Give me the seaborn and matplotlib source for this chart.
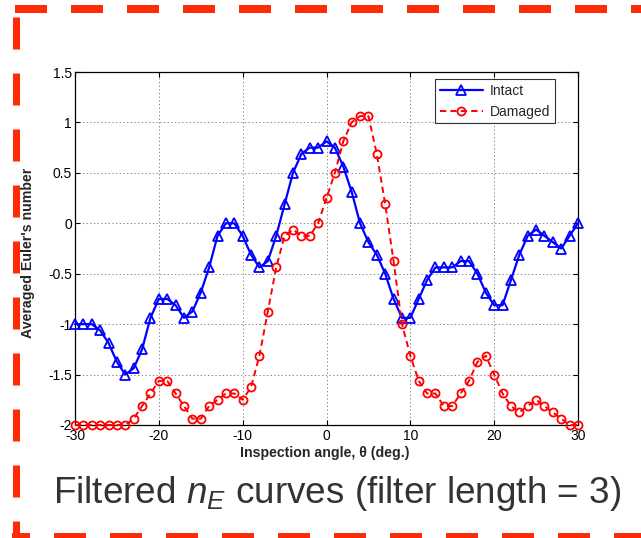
import numpy as np
import pandas as pd
import matplotlib
matplotlib.use("Agg")
import matplotlib.pyplot as plt
from matplotlib.lines import Line2D
from matplotlib.ticker import FuncFormatter, FixedLocator
import seaborn as sns

# Inspection angles (deg.) and averaged Euler's numbers of the filtered curves
angles = list(range(-30, 31))
intact = [-1.0, -1.0, -1.0, -1.0625, -1.1875, -1.375, -1.5, -1.4375, -1.25, -0.9375,
          -0.75, -0.75, -0.8125, -0.9375, -0.875, -0.6875, -0.4375, -0.125, 0.0, 0.0,
          -0.125, -0.3125, -0.4375, -0.375, -0.125, 0.1875, 0.5, 0.6875, 0.75, 0.75,
          0.8125, 0.75, 0.5625, 0.3125, 0.0, -0.1875, -0.3125, -0.5, -0.75, -0.9375,
          -0.9375, -0.75, -0.5625, -0.4375, -0.4375, -0.4375, -0.375, -0.375, -0.5, -0.6875,
          -0.8125, -0.8125, -0.5625, -0.3125, -0.125, -0.0625, -0.125, -0.1875, -0.25, -0.125,
          0.0]
damaged = [-2.0, -2.0, -2.0, -2.0, -2.0, -2.0, -2.0, -1.9375, -1.8125, -1.6875,
           -1.5625, -1.5625, -1.6875, -1.8125, -1.9375, -1.9375, -1.8125, -1.75, -1.6875, -1.6875,
           -1.75, -1.625, -1.3125, -0.875, -0.4375, -0.125, -0.0625, -0.125, -0.125, 0.0,
           0.25, 0.5, 0.8125, 1.0, 1.0625, 1.0625, 0.6875, 0.1875, -0.375, -1.0,
           -1.3125, -1.5625, -1.6875, -1.6875, -1.8125, -1.8125, -1.6875, -1.5625, -1.375, -1.3125,
           -1.5, -1.6875, -1.8125, -1.875, -1.8125, -1.75, -1.8125, -1.875, -1.9375, -2.0,
           -2.0]
x_ticks = [-30, -20, -10, 0, 10, 20, 30]
y_ticks = [-2, -1.5, -1, -0.5, 0, 0.5, 1, 1.5]

df = pd.DataFrame({"angle": angles, "Intact": intact, "Damaged": damaged})

sns.set_style("ticks")
plt.rcParams.update({
    "font.family": ["Liberation Sans", "DejaVu Sans"],
    "axes.unicode_minus": False,
    "lines.scale_dashes": False,
    "mathtext.fontset": "custom",
    "mathtext.rm": "Liberation Sans",
    "mathtext.it": "Liberation Sans:italic",
})

W, H = 641, 538
fig = plt.figure(figsize=(W / 100, H / 100), dpi=100)
ax = fig.add_axes([75 / W, 113 / H, 503 / W, 353 / H])

sns.lineplot(data=df, x="angle", y="Intact", ax=ax, color="#0000ff", lw=1.6,
             marker="^", markersize=7.2, markerfacecolor="none",
             markeredgecolor="#0000ff", markeredgewidth=1.3, label="Intact",
             clip_on=False, zorder=3)
sns.lineplot(data=df, x="angle", y="Damaged", ax=ax, color="#ff0000", lw=1.4,
             linestyle=(0, (4.5, 3.0)), marker="o", markersize=5.8,
             markerfacecolor="none", markeredgecolor="#ff0000", markeredgewidth=1.3,
             label="Damaged", clip_on=False, zorder=3)

ax.set_xlim(-30, 30)
ax.set_ylim(-2, 1.5)
ax.xaxis.set_major_locator(FixedLocator(x_ticks))
ax.yaxis.set_major_locator(FixedLocator(y_ticks))
ax.xaxis.set_major_formatter(FuncFormatter(lambda v, p: f"{v:g}"))
ax.yaxis.set_major_formatter(FuncFormatter(lambda v, p: f"{v:g}"))
ax.tick_params(axis="both", direction="in", length=3.5, width=0.8, top=True,
               right=True, labelsize=10, colors="black")
ax.tick_params(axis="x", pad=3.0)
ax.tick_params(axis="y", pad=2.2)
ax.grid(True, linestyle=":", color="#8a8a8a", linewidth=0.7)
for s in ax.spines.values():
    s.set_visible(True)
    s.set_linewidth(0.9)
    s.set_color("black")

ax.set_xlabel("Inspection angle, θ (deg.)", fontsize=10.2, fontweight="bold", va="center")
ax.set_ylabel("Averaged Euler's number", fontsize=10.2, fontweight="bold", va="center")
ax.xaxis.set_label_coords(0.497, (425 - 453) / 353)
ax.yaxis.set_label_coords((28.5 - 75) / 503, 0.489)

leg = ax.legend(loc="upper right", bbox_to_anchor=(0.954, 0.979), borderaxespad=0,
                fontsize=10, frameon=True, fancybox=False, edgecolor="black",
                handlelength=3.1, handletextpad=0.5, borderpad=0.35, labelspacing=0.45,
                numpoints=1)
leg.get_frame().set_linewidth(0.8)

# caption below the axes
fig.text(337 / W, 1 - 503 / H, r"Filtered $n_E$ curves (filter length = 3)",
         ha="center", va="baseline", fontsize=26.6, color="#333333")

# dashed frame around the panel
red = "#ff2b06"
px = 0.72  # points per pixel at 100 dpi
fig.add_artist(Line2D([15 / W, 1.0], [1 - 9 / H] * 2, transform=fig.transFigure,
                      color=red, lw=8 * px, dash_capstyle="butt",
                      linestyle=(0, (32 * px, 24 * px))))
fig.add_artist(Line2D([15.5 / W] * 2, [1 - 17 / H, 0.0], transform=fig.transFigure,
                      color=red, lw=7 * px, dash_capstyle="butt",
                      linestyle=(0, (32 * px, 24 * px))))
fig.add_artist(Line2D([12 / W, 1.0], [1 - 537 / H] * 2, transform=fig.transFigure,
                      color=red, lw=8 * px, dash_capstyle="butt",
                      linestyle=(14 * px, (32 * px, 24 * px))))

fig.savefig("out.png", dpi=100)
